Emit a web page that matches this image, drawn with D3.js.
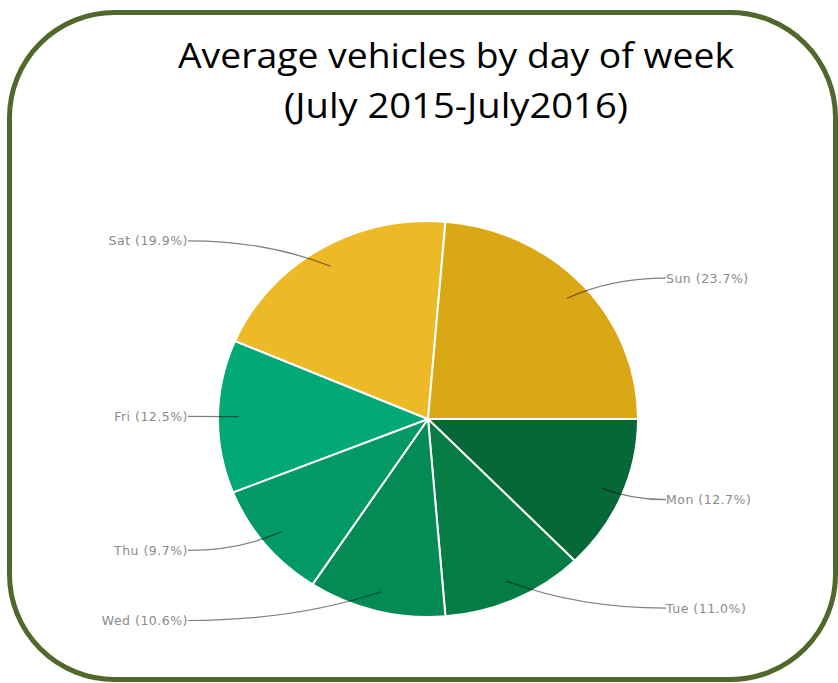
<!DOCTYPE html>
<html>
<head>
<meta charset="utf-8">
<script src="https://cdn.jsdelivr.net/npm/d3@7"></script>
<style>
  body { margin: 0; background: #fff; }
  svg { display: block; }
</style>
</head>
<body>
<div id="chart"></div>
<script>
var width = 838;
var height = 683;

// data, clockwise from 3 o'clock
var days = ["Mon", "Tue", "Wed", "Thu", "Fri", "Sat", "Sun"];
var shares = [12.7, 11.0, 10.6, 9.7, 12.5, 19.9, 23.7];
var colors = ["#066837", "#057c44", "#048b55", "#039965", "#03a877", "#edb926", "#dba815"];
var titleLines = ["Average vehicles by day of week", "(July 2015-July2016)"];

var svg = d3.select("#chart")
    .append("svg")
    .attr("width", width)
    .attr("height", height)

// rounded frame
svg.append("rect")
    .attr("x", 9.5)
    .attr("y", 12.5)
    .attr("width", 826)
    .attr("height", 667)
    .attr("rx", 105)
    .attr("ry", 105)
    .attr("fill", "none")
    .attr("stroke", "#50682a")
    .attr("stroke-width", 5)

// title
svg.selectAll("text.title").data(titleLines)
    .enter().append("text")
    .attr("class", "title")
    .attr("x", 456)
    .attr("y", function(d, i) { return 68 + i * 50 })
    .attr("text-anchor", "middle")
    .attr("font-family", "'Open Sans', sans-serif")
    .attr("font-size", 35)
    .attr("fill", "#000")
    .attr("textLength", function(d, i) { return i == 0 ? 556 : 344 })
    .attr("lengthAdjust", "spacingAndGlyphs")
    .text(function(d) { return d })

var cx = 428, cy = 419;
var r = 210;
var sy = 0.943;   // the pie is slightly squashed vertically

var pie = d3.pie()
    .sort(null)
    .value(function(d) { return d })
    .startAngle(Math.PI / 2)
    .endAngle(Math.PI / 2 + 2 * Math.PI);
var slices = pie(shares);

var arc = d3.arc().innerRadius(0).outerRadius(r);

var g = svg.append("g")
    .attr("transform", "translate(" + cx + "," + cy + ") scale(1," + sy + ")")

g.selectAll("path").data(slices)
    .enter().append("path")
    .attr("d", arc)
    .attr("fill", function(d, i) { return colors[i] })
    .attr("stroke", "#fff")
    .attr("stroke-width", 2)
    .attr("vector-effect", "non-scaling-stroke")

// labels + leader lines
function polar(a, rho) {
    return [cx + Math.sin(a) * rho, cy - Math.cos(a) * rho * sy];
}

var labels = slices.map(function(d, i) {
    var a = (d.startAngle + d.endAngle) / 2;
    var inner = polar(a, r * 0.9);
    var right = Math.sin(a) > 0;
    var ly = cy - Math.cos(a) * r * sy * 1.05;
    var lx = right ? cx + 238 : cx - 240;
    return {
        text: days[i] + " (" + shares[i].toFixed(1) + "%)",
        inner: inner, lx: lx, ly: ly, right: right
    };
});

svg.selectAll("path.leader").data(labels)
    .enter().append("path")
    .attr("class", "leader")
    .attr("d", function(d) {
        var qx = d.lx + (d.inner[0] - d.lx) * 0.55;
        return "M" + d.lx + "," + d.ly + " Q" + qx + "," + d.ly + " " + d.inner[0] + "," + d.inner[1];
    })
    .attr("fill", "none")
    .attr("stroke", "#000")
    .attr("stroke-opacity", 0.5)
    .attr("stroke-width", 1.2)

svg.selectAll("text.lbl").data(labels)
    .enter().append("text")
    .attr("class", "lbl")
    .attr("x", function(d) { return d.lx })
    .attr("y", function(d) { return d.ly })
    .attr("dy", "0.35em")
    .attr("text-anchor", function(d) { return d.right ? "start" : "end" })
    .attr("font-family", "'DejaVu Sans', sans-serif")
    .attr("font-size", 12.5)
    .attr("letter-spacing", 0.5)
    .attr("fill", "#8a8a8a")
    .text(function(d) { return d.text })
</script>
</body>
</html>
